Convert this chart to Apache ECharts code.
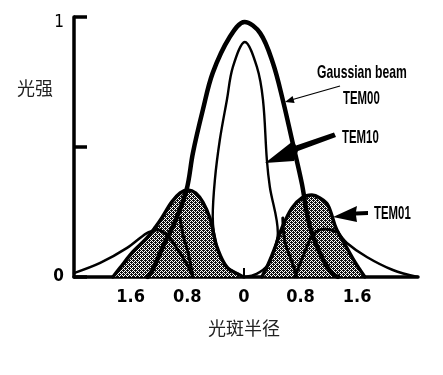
<!DOCTYPE html>
<html>
<head>
<meta charset="utf-8">
<script src="https://cdn.jsdelivr.net/npm/echarts@6/dist/echarts.min.js"></script>
<style>
html,body{margin:0;padding:0;background:#fff;}
#c{width:443px;height:375px;}
</style>
</head>
<body>
<div id="c"></div>
<script>
// ---- data (x = spot radius, y = relative intensity) ----
var xTicks = [-1.6, -0.8, 0, 0.8, 1.6];
var yTicks = [0, 0.5, 1];

// TEM00 Gaussian beam (thick)
var tem00 = [[-1.36,0],[-1.29,0.027],[-1.12,0.131],[-0.98,0.208],[-0.81,0.335],[-0.72,0.477],[-0.58,0.642],[-0.44,0.785],[-0.20,0.923],[0.01,0.981],[0.23,0.938],[0.41,0.823],[0.55,0.681],[0.69,0.515],[0.82,0.358],[0.89,0.246],[0.96,0.169],[1.10,0.077],[1.24,0.015],[1.33,0]];

// TEM10 narrow central profile (closed teardrop)
var tem10 = [[0.0,0],[-0.056,0.008],[-0.24,0.038],[-0.38,0.115],[-0.44,0.231],[-0.41,0.373],[-0.34,0.527],[-0.24,0.681],[-0.155,0.808],[0.014,0.904],[0.184,0.808],[0.27,0.681],[0.325,0.45],[0.367,0.346],[0.48,0.169],[0.438,0.112],[0.339,0.046],[0.18,0.012],[0.014,0]];

// TEM01 lobes (hatched envelopes)
var lobeLeft = [[-1.85,0],[-1.75,0.035],[-1.57,0.096],[-1.37,0.15],[-1.26,0.188],[-1.16,0.227],[-1.02,0.288],[-0.90,0.323],[-0.79,0.335],[-0.68,0.323],[-0.58,0.288],[-0.48,0.227],[-0.43,0.17],[-0.38,0.115],[-0.24,0.038],[-0.06,0.008],[0.0,0]];
var lobeRight = [[0.254,0],[0.339,0.046],[0.438,0.112],[0.537,0.188],[0.678,0.265],[0.819,0.304],[0.96,0.315],[1.073,0.304],[1.186,0.277],[1.285,0.2],[1.328,0.173],[1.455,0.112],[1.568,0.058],[1.709,0]];

// inner dividing lines of the lobes
var innerLeftA = [[-1.26,0.188],[-1.09,0.162],[-0.95,0.112],[-0.80,0.046],[-0.72,0]];
var innerLeftB = [[-0.90,0.227],[-0.86,0.162],[-0.79,0.096],[-0.72,0]];
var innerRightA = [[0.72,0],[0.86,0.096],[0.975,0.162],[1.14,0.185],[1.328,0.173]];
var innerRightB = [[0.55,0.227],[0.58,0.135],[0.68,0.058],[0.75,0]];

// outer wide tails
var tailLeft = [[-2.40,0.015],[-2.03,0.054],[-1.65,0.112],[-1.37,0.169],[-1.23,0.181]];
var tailRight = [[1.33,0.173],[1.455,0.131],[1.737,0.077],[2.105,0.027],[2.458,0]];

// ---- hatch pattern ----
var pc = document.createElement('canvas');
pc.width = 4; pc.height = 4;
var pctx = pc.getContext('2d');
pctx.fillStyle = '#fff'; pctx.fillRect(0,0,4,4);
pctx.fillStyle = '#111';
for (var i = 0; i < 4; i++) for (var j = 0; j < 4; j++) {
  if ((i + j) % 2 === 0 || (i === 1 && j === 0) || (i === 3 && j === 2)) pctx.fillRect(i, j, 1, 1);
}
var hatch = {image: pc, repeat: 'repeat'};

var chart = echarts.init(document.getElementById('c'), null, {renderer: 'canvas'});
var narrow = '"Liberation Sans Narrow","DejaVu Sans Condensed",sans-serif';

function lineSeries(name, data, width, z, extra) {
  var s = {
    name: name, type: 'line', data: data, smooth: 0.35, symbol: 'none',
    lineStyle: {color: '#000', width: width, cap: 'round', join: 'round'},
    z: z, silent: true, animation: false
  };
  if (extra) for (var k in extra) s[k] = extra[k];
  return s;
}

var option = {
  backgroundColor: '#fff',
  animation: false,
  grid: {left: 74, right: 25, top: 17, bottom: 98},
  xAxis: {
    type: 'value', min: -2.4, max: 2.46, interval: 0.8,
    axisLine: {show: true, onZero: false, lineStyle: {color: '#000', width: 3.5}},
    axisTick: {show: true, inside: true, length: 9, customValues: [0], lineStyle: {color: '#000', width: 2}},
    axisLabel: {
      customValues: xTicks, margin: 11, color: '#000', fontSize: 18, fontWeight: 'bold', fontFamily: narrow,
      formatter: function (v) { return v === 0 ? '0' : Math.abs(v).toFixed(1); }
    },
    splitLine: {show: false}
  },
  yAxis: {
    type: 'value', min: 0, max: 1, interval: 0.5,
    axisLine: {show: true, onZero: false, lineStyle: {color: '#000', width: 3.5}},
    axisTick: {show: true, inside: true, length: 13, lineStyle: {color: '#000', width: 3.5}},
    axisLabel: {
      margin: 10, color: '#000', fontSize: 17, fontWeight: 'bold', fontFamily: narrow,
      formatter: function (v) { return v === 0.5 ? '' : (v === 1 ? '{t|1}' : String(v)); },
      rich: {t: {fontSize: 17, fontWeight: 'normal', fontFamily: narrow, color: '#000', padding: [12, 0, 0, 0]}}
    },
    splitLine: {show: false}
  },
  series: [
    lineSeries('lobeL', lobeLeft, 3.5, 2, {areaStyle: {color: hatch, opacity: 1}}),
    lineSeries('lobeR', lobeRight, 3.5, 2, {areaStyle: {color: hatch, opacity: 1}}),
    lineSeries('inLA', innerLeftA, 3, 3),
    lineSeries('inLB', innerLeftB, 3, 3),
    lineSeries('inRA', innerRightA, 3, 3),
    lineSeries('inRB', innerRightB, 3, 3),
    lineSeries('tailL', tailLeft, 2.5, 3),
    lineSeries('tailR', tailRight, 2.5, 3),
    lineSeries('TEM10', tem10, 2.4, 4),
    lineSeries('TEM00', tem00, 4.5, 5)
  ],
  graphic: [
    {type: 'text', left: 17, top: 79, style: {text: '光强', font: '18px "Noto Sans CJK SC"', fill: '#222'}},
    {type: 'text', x: 244, y: 328, style: {text: '光斑半径', font: '18px "Noto Sans CJK SC"', fill: '#222', align: 'center', verticalAlign: 'middle'}},
    {type: 'text', x: 317, y: 73, scaleX: 0.64, style: {text: 'Gaussian beam', font: 'bold 19px "Liberation Sans"', fill: '#000', verticalAlign: 'middle'}},
    {type: 'text', x: 343, y: 99, scaleX: 0.6, style: {text: 'TEM00', font: 'bold 19px "Liberation Sans"', fill: '#000', verticalAlign: 'middle'}},
    {type: 'text', x: 342, y: 138, scaleX: 0.6, style: {text: 'TEM10', font: 'bold 19px "Liberation Sans"', fill: '#000', verticalAlign: 'middle'}},
    {type: 'text', x: 374, y: 214, scaleX: 0.6, style: {text: 'TEM01', font: 'bold 19px "Liberation Sans"', fill: '#000', verticalAlign: 'middle'}},
    {type: 'line', shape: {x1: 340, y1: 86, x2: 291, y2: 100}, style: {stroke: '#000', lineWidth: 1.3}},
    {type: 'polygon', shape: {points: [[285,102],[294.6,102.9],[292.6,96.1]]}, style: {fill: '#000'}},
    {type: 'polygon', shape: {points: [[334,132.5],[296,145.5],[293,141],[265,163],[294,161],[298,151],[336,137]]}, style: {fill: '#000'}},
    {type: 'polygon', shape: {points: [[368,211],[356,211.5],[357,206],[333,217],[357,222],[356,215.5],[368,215]]}, style: {fill: '#000'}}
  ]
};
chart.setOption(option);
</script>
</body>
</html>
